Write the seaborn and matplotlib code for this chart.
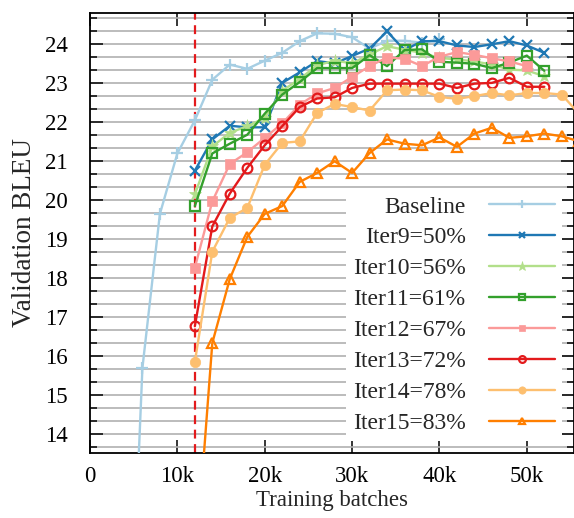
import numpy as np
import pandas as pd
import matplotlib
matplotlib.use("Agg")
import matplotlib.pyplot as plt
from matplotlib.ticker import FuncFormatter, MultipleLocator
import seaborn as sns

# 各條曲線的數據（訓練批次 k, BLEU）
baseline_x = [4, 6, 8, 10, 12, 14, 16, 18, 20, 22, 24, 26, 28, 30, 32, 34, 36, 38, 40]
baseline_y = [5.0, 15.69, 19.64, 21.19, 22.04, 23.08, 23.47, 23.36, 23.57, 23.77,
              24.07, 24.27, 24.26, 24.17, 23.88, 24.08, 24.08, 24.03, 24.12]

iter9_x = list(range(12, 54, 2))
iter9_y = [20.75, 21.55, 21.9, 21.86, 21.86, 23.0, 23.27, 23.56, 23.5, 23.69, 23.88,
           24.32, 23.84, 24.07, 24.07, 23.96, 23.92, 23.99, 24.07, 23.96, 23.77]

iter10_x = list(range(12, 54, 2))
iter10_y = [20.14, 21.37, 21.72, 21.89, 22.1, 22.8, 23.1, 23.45, 23.57, 23.5, 23.73,
            23.94, 23.85, 23.77, 23.64, 23.6, 23.55, 23.47, 23.34, 23.32, 23.17]

iter11_x = list(range(12, 54, 2))
iter11_y = [19.84, 21.19, 21.44, 21.67, 22.21, 22.7, 23.02, 23.38, 23.38, 23.38, 23.71,
            23.43, 23.84, 23.86, 23.54, 23.52, 23.49, 23.38, 23.52, 23.7, 23.31]

iter12_x = list(range(12, 52, 2))
iter12_y = [18.26, 19.96, 20.92, 21.22, 21.59, 21.96, 22.44, 22.73, 22.87, 23.15,
            23.43, 23.65, 23.62, 23.43, 23.67, 23.79, 23.72, 23.63, 23.55, 23.43]

iter13_x = list(range(12, 54, 2))
iter13_y = [16.76, 19.32, 20.16, 20.82, 21.4, 21.89, 22.38, 22.6, 22.63, 22.87, 22.98,
            22.98, 22.98, 22.98, 22.98, 22.87, 22.98, 23.0, 23.13, 22.9, 22.9]

iter14_x = list(range(12, 58, 2))
iter14_y = [15.84, 18.67, 19.54, 19.79, 20.9, 21.46, 21.5, 22.23, 22.46, 22.38, 22.29,
            22.81, 22.83, 22.81, 22.64, 22.59, 22.66, 22.74, 22.68, 22.74, 22.74, 22.7, 22.2]

iter15_x = list(range(12, 58, 2))
iter15_y = [10.4, 16.33, 17.97, 19.05, 19.64, 19.84, 20.46, 20.69, 20.99, 20.69, 21.2,
            21.55, 21.44, 21.4, 21.6, 21.36, 21.7, 21.85, 21.59, 21.63, 21.7, 21.63, 21.5]

labels = ["Baseline", "Iter9=50%", "Iter10=56%", "Iter11=61%",
          "Iter12=67%", "Iter13=72%", "Iter14=78%", "Iter15=83%"]
series = [(baseline_x, baseline_y), (iter9_x, iter9_y), (iter10_x, iter10_y),
          (iter11_x, iter11_y), (iter12_x, iter12_y), (iter13_x, iter13_y),
          (iter14_x, iter14_y), (iter15_x, iter15_y)]
split_x = 12  # 切換點 (k)

sns.set_theme(style="ticks")
plt.rcParams['font.family'] = ['Liberation Serif', 'DejaVu Serif']
plt.rcParams['font.size'] = 16.5

colors = sns.color_palette("Paired", 8)
# (marker, 是否實心, 大小)
styles = [('+', True, 9), ('x', True, 7), ('*', True, 9.5), ('s', False, 7),
          ('s', True, 7), ('o', False, 7), ('o', True, 7.5), ('^', False, 7)]

fig = plt.figure(figsize=(5.74, 5.18), dpi=100)
ax = fig.add_axes([0.1568, 0.1249, 0.8432, 0.8506])

# 橫向格線（每 1/3）
ax.yaxis.set_major_locator(MultipleLocator(1))
ax.yaxis.set_minor_locator(MultipleLocator(1/3))
ax.grid(axis='y', which='both', color='#b0b0b0', linewidth=1.2, zorder=0)
ax.set_axisbelow(True)

ax.axvline(split_x * 1000, color='#e31a1c', linestyle=(0, (4, 2.5)), linewidth=1.6, zorder=1.5)

for (xs, ys), lab, col, (mk, filled, ms) in zip(series, labels, colors, styles):
    df = pd.DataFrame({'batch': np.array(xs) * 1000, 'bleu': ys})
    sns.lineplot(data=df, x='batch', y='bleu', ax=ax, color=col, label=lab,
                 marker=mk, markersize=ms, linewidth=1.7,
                 markerfacecolor=col if filled else 'none',
                 markeredgecolor=col, markeredgewidth=1.6 if not filled or mk in '+x' else 0.5,
                 zorder=3)

ax.set_xlim(0, 55400)
ax.set_ylim(13.5, 24.8)
ax.xaxis.set_major_locator(MultipleLocator(10000))
ax.xaxis.set_major_formatter(FuncFormatter(lambda v, p: '0' if v == 0 else f'{int(v / 1000)}k'))

ax.tick_params(axis='both', which='both', direction='in', top=True, right=True,
               colors='black', labelsize=16.5)
ax.tick_params(axis='y', which='major', length=9.5, width=1.1, pad=16)
ax.tick_params(axis='y', which='minor', length=5, width=1.1)
ax.tick_params(axis='x', which='major', length=9.5, width=1.1, pad=9)
for s in ax.spines.values():
    s.set_linewidth(1.3)
    s.set_color('black')

ax.set_xlabel('Training batches', fontsize=16.5, labelpad=2)
ax.set_ylabel('Validation BLEU', fontsize=19.5, labelpad=6)

leg = ax.legend(loc='lower right', bbox_to_anchor=(0.976, 0.027), borderaxespad=0,
                markerfirst=False, frameon=True, fancybox=False, framealpha=1,
                edgecolor='none', facecolor='white', fontsize=17,
                handlelength=2.8, handletextpad=1.0, labelspacing=0.40,
                markerscale=0.7, borderpad=0.3)

fig.savefig('out.png', dpi=100)
